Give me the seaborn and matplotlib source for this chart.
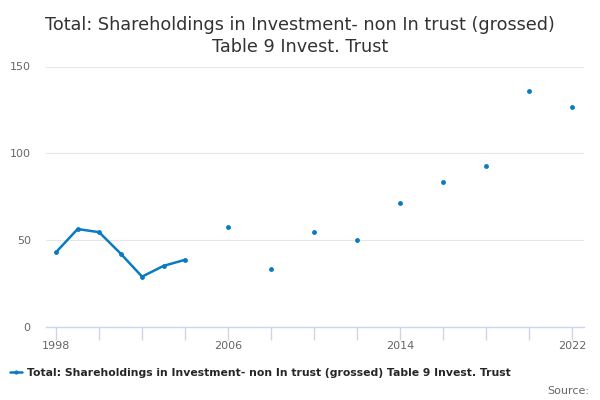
import numpy as np
import pandas as pd
import matplotlib
matplotlib.use('Agg')
import matplotlib.pyplot as plt
from matplotlib.lines import Line2D
import seaborn as sns

years = [1998, 1999, 2000, 2001, 2002, 2003, 2004, 2006, 2008, 2010,
         2012, 2014, 2016, 2018, 2020, 2022]
values = [43.1, 56.4, 54.6, 42.3, 29.0, 35.2, 38.7, 57.5, 33.5, 54.6,
          50.0, 71.2, 83.7, 92.5, 136.0, 126.5]
series_name = 'Total: Shareholdings in Investment- non In trust (grossed) Table 9 Invest. Trust'
title = 'Total: Shareholdings in Investment- non In trust (grossed)\nTable 9 Invest. Trust'

df = pd.DataFrame({'year': years, 'value': values})
# consecutive years are joined, gaps in the years break the line
df['segment'] = (df['year'].diff() != 1).cumsum()

blue = '#0a7bc2'
sns.set_style('white')
plt.rcParams['font.family'] = ['DejaVu Sans']

fig = plt.figure(figsize=(6, 4), dpi=100)
ax = fig.add_axes([46 / 600, 1 - 327 / 400, 538 / 600, (327 - 66.5) / 400])

sns.lineplot(data=df, x='year', y='value', units='segment', estimator=None,
             color=blue, linewidth=1.8, marker='o', markersize=3.5,
             markeredgewidth=0, ax=ax)

ax.set_xlim(1997.53, 2022.56)
ax.set_ylim(0, 150)
ax.set_yticks([0, 50, 100, 150])
ax.set_xticks(range(1998, 2023, 2))
ax.set_xticklabels([str(y) if (y - 1998) % 8 == 0 else '' for y in range(1998, 2023, 2)])
ax.grid(axis='y', color='#e6e6e6', linewidth=0.8)
ax.set_axisbelow(True)
for s in ['top', 'right', 'left']:
    ax.spines[s].set_visible(False)
ax.spines['bottom'].set_color('#ccd6eb')
ax.spines['bottom'].set_linewidth(1)
ax.tick_params(axis='x', bottom=True, direction='out', length=9, width=1,
               color='#ccd6eb', labelsize=8, labelcolor='#666666', pad=1)
ax.tick_params(axis='y', left=False, length=0, labelsize=8, labelcolor='#666666', pad=11)
ax.set_xlabel('')
ax.set_ylabel('')

fig.text(0.5, 0.96, title, ha='center', va='top', fontsize=12.7, color='#333333',
         linespacing=1.25)

handle = Line2D([], [], color=blue, linewidth=1.8, marker='o', markersize=3,
                markeredgewidth=0)
fig.legend([handle], [series_name], loc='center left', bbox_to_anchor=(10 / 600, 1 - 373 / 400),
           frameon=False, handlelength=1.1, handletextpad=0.45, borderpad=0,
           borderaxespad=0, prop={'weight': 'bold', 'size': 7.8})
fig.text(0.982, 1 - 391 / 400, 'Source:', ha='right', va='center', fontsize=8,
         color='#666666')

fig.savefig('out.png', dpi=100)
